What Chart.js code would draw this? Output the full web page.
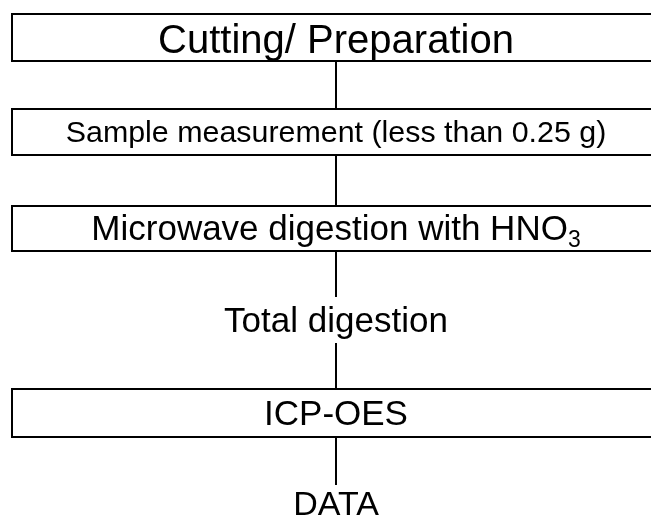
<!DOCTYPE html>
<html>
<head>
<meta charset="utf-8">
<script src="https://cdn.jsdelivr.net/npm/chart.js@4"></script>
<style>
    html, body { margin: 0; padding: 0; background: #fff; }
    #wrap { width: 651px; height: 518px; position: relative; }
</style>
</head>
<body>
<div id="wrap"><canvas id="flowChart"></canvas></div>
<script>
// Flow steps, top to bottom
const stepText = ['Cutting/ Preparation', 'Sample measurement (less than 0.25 g)', 'Microwave digestion with HNO', 'Total digestion', 'ICP-OES', 'DATA'];
const stepSub = ['', '', '3', '', '', ''];
const stepBoxed = [true, true, true, false, true, false];
const boxTop = [14, 109, 206, null, 389, null];
const boxBottom = [61, 155, 251, null, 437, null];
const textBase = [53, 142, 240, 332, 425, 515];
const fontPx = [40, 30.4, 35, 35, 35, 34];

// connector segments (x = 336)
const linkX = 336;
const linkFrom = [61, 155, 251, 343, 437];
const linkTo = [109, 206, 297, 389, 485];

const boxLeft = 12;
const boxRight = 651;

const datasets = [];

stepBoxed.forEach((boxed, i) => {
    if (!boxed) return;
    datasets.push({
        data: [
            { x: boxRight, y: boxTop[i] },
            { x: boxLeft, y: boxTop[i] },
            { x: boxLeft, y: boxBottom[i] },
            { x: boxRight, y: boxBottom[i] }
        ],
        borderColor: '#000',
        borderWidth: 2,
        pointRadius: 0,
        showLine: true,
        fill: false,
        tension: 0,
        clip: false
    });
});

linkFrom.forEach((y0, i) => {
    datasets.push({
        data: [{ x: linkX, y: y0 }, { x: linkX, y: linkTo[i] }],
        borderColor: '#000',
        borderWidth: 2,
        pointRadius: 0,
        showLine: true,
        fill: false,
        clip: false
    });
});

const labelPlugin = {
    id: 'stepLabels',
    afterDatasetsDraw(chart) {
        const ctx = chart.ctx;
        const xs = chart.scales.x;
        const ys = chart.scales.y;
        const cx = xs.getPixelForValue(linkX);
        ctx.save();
        ctx.fillStyle = '#000';
        ctx.textBaseline = 'alphabetic';
        ctx.textAlign = 'left';
        stepText.forEach((txt, i) => {
            const size = fontPx[i];
            const mainFont = `${size}px "Liberation Sans", Arial, sans-serif`;
            const subFont = `${Math.round(size * 0.66)}px "Liberation Sans", Arial, sans-serif`;
            ctx.font = mainFont;
            const w1 = ctx.measureText(txt).width;
            let w2 = 0;
            if (stepSub[i]) {
                ctx.font = subFont;
                w2 = ctx.measureText(stepSub[i]).width;
            }
            const x0 = cx - (w1 + w2) / 2;
            const yb = ys.getPixelForValue(textBase[i]);
            ctx.font = mainFont;
            ctx.fillText(txt, x0, yb);
            if (stepSub[i]) {
                ctx.font = subFont;
                ctx.fillText(stepSub[i], x0 + w1, yb + size * 0.2);
            }
        });
        ctx.restore();
    }
};

new Chart(document.getElementById('flowChart').getContext('2d'), {
    type: 'scatter',
    data: { datasets: datasets },
    options: {
        responsive: true,
        maintainAspectRatio: false,
        animation: false,
        layout: { padding: 0 },
        plugins: {
            legend: { display: false },
            tooltip: { enabled: false }
        },
        scales: {
            x: { type: 'linear', min: 0, max: 651, display: false },
            y: { type: 'linear', min: 0, max: 518, reverse: true, display: false }
        }
    },
    plugins: [labelPlugin]
});
</script>
</body>
</html>
